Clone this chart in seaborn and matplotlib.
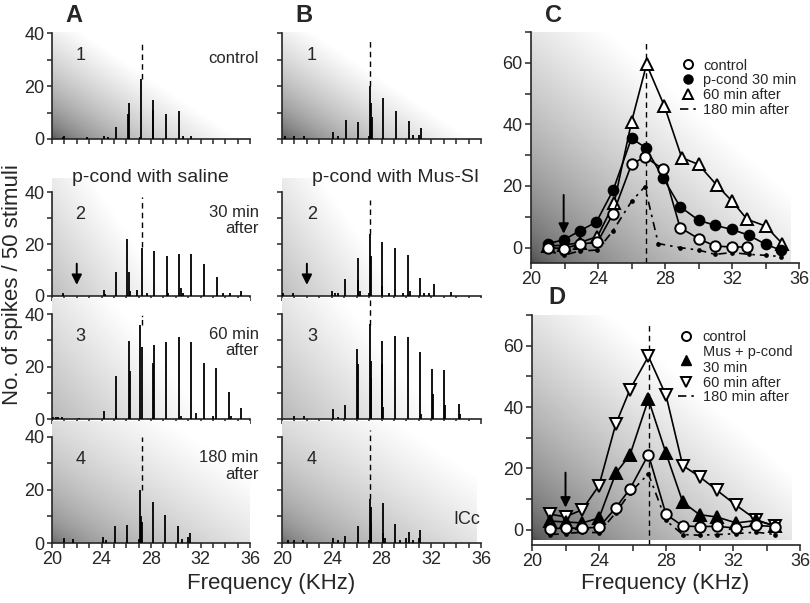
import numpy as np
import matplotlib
matplotlib.use('Agg')
import matplotlib.pyplot as plt
import seaborn as sns
from matplotlib.lines import Line2D

# ---- data ----
# panel A (p-cond with saline): frequency (kHz) and spike counts of each stem
a1_freq = [20.9, 20.95, 22.8, 24.2, 24.5, 25.2, 26.15, 26.2, 27.1, 27.2, 28.15, 28.2, 29.2, 30.3, 30.6, 31.2]
a1_count = [0.8, 1.0, 0.6, 1.3, 0.8, 4.4, 9.5, 13.6, 0.8, 22.5, 11, 14.6, 9.5, 10.4, 1, 1]
a2_freq = [20.9, 24.2, 24.3, 25.2, 26.1, 26.2, 26.3, 26.9, 27.3, 27.7, 28.25, 29.3, 29.35, 30.3, 30.45,
           30.6, 31.2, 32.3, 33.3, 33.8, 34.4, 35.3]
a2_count = [1, 2.3, 0.8, 9.4, 21.8, 9.4, 2, 2.3, 18.6, 1.3, 17.5, 15.5, 1, 16.2, 3, 1, 16.2, 12.3, 7.2, 1, 1, 2]
a3_freq = [20.1, 20.3, 20.5, 20.8, 22.2, 24.2, 25.15, 25.2, 26.2, 26.3, 27.15, 27.25, 28.15, 28.25, 29.2,
           30.27, 30.4, 31.24, 31.6, 32.3, 33.0, 33.25, 34.27, 34.45, 35.3]
a3_count = [0.6, 0.6, 0.6, 0.6, 0.3, 2.9, 1, 16.2, 29.6, 18.3, 35.8, 27.5, 21.3, 28.1, 29.4, 31.3, 1, 29.4,
            2.2, 21.5, 1, 19.4, 10.2, 1, 4.2]
a4_freq = [20.94, 21.7, 24.1, 24.4, 25.1, 26.1, 27.05, 27.15, 27.2, 27.25, 28.15, 29.14, 30.16, 30.5, 31.0, 31.15]
a4_count = [1.9, 1.5, 2.2, 1, 6.5, 6.6, 1.5, 20, 10, 8, 15.4, 10.4, 6.5, 1.5, 2.3, 3.8]

# panel B (p-cond with Mus-SI)
b1_freq = [20.24, 20.96, 21.8, 24.1, 24.5, 25.15, 26.14, 27.0, 27.1, 27.15, 27.2, 28.15, 29.14, 30.2, 30.5,
           31.05, 31.15]
b1_count = [1, 1, 1, 2.5, 1, 7, 6.6, 1, 20, 13.7, 8.4, 15.6, 10.6, 6.9, 1.5, 1.5, 4.1]
b2_freq = [20.1, 20.9, 24.05, 24.3, 24.5, 25.07, 26.09, 26.15, 26.3, 27.0, 27.08, 27.15, 28.0, 28.07, 28.6,
           29.06, 29.7, 30.1, 30.3, 31.1, 31.4, 31.8, 32.2, 33.6]
b2_count = [1, 1, 2, 1, 1, 6.6, 14.6, 6.3, 2, 1, 23.8, 15.4, 4, 20.8, 1, 18.5, 1, 15.6, 2, 6.9, 1, 1, 4.6, 1.5]
b3_freq = [20.97, 21.77, 24.1, 24.5, 25.07, 26.06, 26.12, 27.08, 27.13, 27.18, 28.0, 28.07, 28.12, 29.08,
           30.1, 31.1, 31.15, 32.1, 32.15, 33.0, 33.08, 34.2, 34.3]
b3_count = [1, 1, 3.8, 0.8, 5.3, 26.7, 21.1, 36.1, 22, 15.7, 21.1, 29.6, 4.5, 31.8, 31.2, 25.4, 2, 18.9, 9.4,
            18.5, 5.3, 5.7, 2]
b4_freq = [20.5, 21.0, 21.7, 24.1, 24.5, 25.1, 26.1, 27.0, 27.08, 27.13, 27.18, 28.1, 28.15, 28.25, 29.1,
           29.5, 30.0, 30.2, 30.5, 31.0, 31.1]
b4_count = [1, 1, 1, 2, 1, 2.8, 6.3, 1, 16.6, 13.4, 7.5, 15, 3.8, 2, 7.1, 1, 2, 4.1, 1, 2, 4.75]

row_numbers = ['1', '2', '3', '4']
row_notes = ['control', '30 min\nafter', '60 min\nafter', '180 min\nafter']

# panel C (saline)
c_freq_control = [21, 21.95, 22.9, 23.97, 24.9, 26.0, 26.8, 27.9, 28.9, 30.0, 31.0, 32.0, 32.9]
c_control = [0, -0.3, 1.1, 1.8, 11, 27, 29.5, 25.4, 6.5, 2.9, 0.5, 0.2, 0.2]
c_freq_pcond = [21, 21.95, 22.9, 23.9, 24.9, 26.0, 26.85, 27.9, 28.9, 30.0, 31.0, 32.0, 33.0, 34.0, 34.9]
c_pcond = [1.3, 2.5, 5.4, 8.3, 18.6, 35.5, 32.4, 22.5, 13.3, 8.9, 7.2, 5.9, 4.0, 1.1, -0.8]
c_freq_60 = [21, 21.95, 22.9, 23.97, 24.96, 26.0, 26.9, 27.96, 29.0, 30.0, 31.1, 32.0, 32.9, 34.0, 35.0]
c_60 = [0.5, 0.8, 1.6, 3.6, 14.4, 40.8, 59.5, 46, 29.2, 27, 20.2, 15.1, 9.2, 7, 1.3]
c_freq_180 = [21, 21.95, 22.9, 23.97, 24.9, 26.0, 26.8, 27.6, 28.9, 30.0, 31.0, 32.0, 33.0, 34.0, 34.9]
c_180 = [-1.1, -2.5, -1.1, -0.8, 5.5, 15, 19.8, 1.3, 0, -0.8, -2.2, -1.6, -2.2, -2.5, -2.9]

# panel D (muscimol)
d_freq = [21.1, 22.0, 23.0, 24.0, 25.0, 25.85, 26.95, 28.0, 29.0, 30.0, 31.05, 32.2, 33.4, 34.5]
d_control = [0.3, 0.5, 0.5, 0.8, 7.1, 13.3, 24.5, 5.0, 1.2, 1.0, 1.1, 0.5, 1.4, 1.0]
d_mus = [2.8, 2.5, 2.2, 3.8, 18.4, 24.4, 42.5, 24.9, 9.0, 4.9, 4.1, 2.2, 3.0, 1.2]
d_60 = [5.0, 4.2, 6.5, 14.4, 34.4, 45.7, 56.5, 43.8, 20.9, 17.3, 12.8, 7.9, 3.2, 1.2]
d_180 = [-1.6, -1.3, -0.8, -1.0, 5.5, 12.0, 18.2, 3.0, -1.6, -1.8, -1.6, -1.3, -0.8, -1.6]


sns.set_style('ticks')
plt.rcParams['font.family'] = ['Liberation Sans', 'DejaVu Sans']
plt.rcParams['axes.linewidth'] = 1.2

W, H = 810, 603
fig = plt.figure(figsize=(W / 100, H / 100), dpi=100)


def px_axes(x0, x1, y_top, y_bot):
    return fig.add_axes([x0 / W, 1 - y_bot / H, (x1 - x0) / W, (y_bot - y_top) / H])


def shade(ax, x0, x1, y0, y1, dark, wx, wy, s, gamma):
    # grey background that fades from a dark lower-left corner to white
    u, v = np.meshgrid(np.linspace(0, 1, 200), np.linspace(0, 1, 200))
    t = np.clip((u * wx + v * wy) / s, 0, 1) ** gamma
    g = dark + (1 - dark) * t
    ax.imshow(g, cmap='gray', vmin=0, vmax=1, extent=(x0, x1, y0, y1), origin='lower',
              aspect='auto', zorder=0, interpolation='bilinear')


# pixel layout of the histogram rows: (top of shading, x axis)
rows_px = [(32, 139), (178, 296), (298, 419), (421, 543)]
rows_top = [40.4, 45.4, 46.1, 46.0]
shades = [(0.3, 1, 0.8, 0.95, 0.55), (0.74, 1, 0.4, 0.6, 0.9), (0.72, 1, 0.5, 0.8, 0.9), (0.35, 1, 0.9, 1.5, 0.45)]

a_data = [(a1_freq, a1_count), (a2_freq, a2_count), (a3_freq, a3_count), (a4_freq, a4_count)]
b_data = [(b1_freq, b1_count), (b2_freq, b2_count), (b3_freq, b3_count), (b4_freq, b4_count)]
a_dash = [(37, 22.5, (0, (4, 3))), (38, 19, (0, (4, 3))), (40, 36, (0, (4, 2, 1, 2))), (40, 20, (0, (4, 3)))]
b_dash = [(37, 20, (0, (4, 3))), (37, 24, (0, (4, 3))), (46, 36, (0, (4, 3))), (42.5, 16.6, (0, (4, 3)))]


def hist_panel(x0, x1, data, dash_x, dashes, panel):
    for i, ((freq, count), (yt, yb)) in enumerate(zip(data, rows_px)):
        ax = px_axes(x0, x1, yt, yb)
        top = rows_top[i]
        shade(ax, 20, 35.6 if (panel == 'B' and i == 3) else 36, 0, top, *shades[i])
        ax.vlines(freq, 0, count, color='black', lw=1.3, zorder=3)
        d0, d1, ls = dashes[i]
        ax.vlines(dash_x, d1, d0, color='black', lw=1.0, linestyles=[ls], zorder=3)
        ax.set_xlim(20, 36)
        ax.set_ylim(0, top)
        ax.set_facecolor('none')
        ax.spines['top'].set_visible(False)
        ax.spines['right'].set_visible(False)
        ax.spines['left'].set_bounds(0, 40)
        ax.set_xticks(range(20, 37))
        ax.set_yticks(range(0, 41, 10))
        ax.set_yticklabels(['0', '', '20', '', '40'] if panel == 'A' else [])
        if i == 3:
            ax.set_xticklabels([str(v) if v % 4 == 0 else '' for v in range(20, 37)])
        else:
            ax.set_xticklabels([])
        ax.tick_params(length=3.5, width=1.1, labelsize=13, pad=2)
        ax.text(22.3 if panel == 'A' else 22.4, 31.5, row_numbers[i], fontsize=13, ha='center', va='center')
        if panel == 'A':
            ax.text(36.7, 30.5 if i == 0 else 29, row_notes[i], fontsize=12, ha='right', va='center',
                    linespacing=1.1, clip_on=False)
        if i == 1:
            ax.annotate('', xy=(22, 3.2), xytext=(22, 13.5),
                        arrowprops=dict(arrowstyle='-|>', color='black', lw=1.4, mutation_scale=15))
        if panel == 'B' and i == 3:
            ax.text(35.9, 8.7, 'ICc', fontsize=13, ha='right', va='center')


hist_panel(52, 250, a_data, 27.25, a_dash, 'A')
hist_panel(282, 481, b_data, 27.1, b_dash, 'B')


def curve(ax, x, y, marker, mfc, ms, ls='-', z=3):
    sns.lineplot(x=x, y=y, ax=ax, color='black', lw=1.2, linestyle=ls, marker=marker,
                 markerfacecolor=mfc, markeredgecolor='black', markeredgewidth=1.4,
                 markersize=ms, zorder=z, legend=False, sort=False, errorbar=None)


def tuning_axes(x0, x1, yt, yb, shade_bottom, vx):
    ax = px_axes(x0, x1, yt, yb)
    shade(ax, 20, 35.5, shade_bottom, 70, 0.28, 1, 1, 1.3, 0.6)
    ax.vlines(vx, -5, 67, color='black', lw=1.0, linestyles=[(0, (4, 3))], zorder=2)
    ax.set_xlim(20, 36)
    ax.set_ylim(-5, 70)
    ax.set_facecolor('none')
    ax.spines['top'].set_visible(False)
    ax.spines['right'].set_visible(False)
    ax.set_xticks(range(20, 37, 2))
    ax.set_xticklabels([str(v) if v % 4 == 0 else '' for v in range(20, 37, 2)])
    ax.set_yticks(range(0, 71, 10))
    ax.set_yticklabels(['0', '', '20', '', '40', '', '60', ''])
    ax.tick_params(length=4, width=1.1, labelsize=13, pad=2)
    ax.set_xlabel('')
    ax.set_ylabel('')
    return ax


dashdot = (0, (5, 3, 1.5, 3))

# panel C
axc = tuning_axes(531, 799, 32, 263, -5, 26.86)
curve(axc, c_freq_180, c_180, '.', 'black', 4, ls=dashdot, z=3)
curve(axc, c_freq_60, c_60, '^', 'white', 9, z=4)
curve(axc, c_freq_pcond, c_pcond, 'o', 'black', 7, z=5)
curve(axc, c_freq_control, c_control, 'o', 'white', 7.5, z=6)
axc.annotate('', xy=(21.95, 3.6), xytext=(21.95, 18),
             arrowprops=dict(arrowstyle='-|>', color='black', lw=1.4, mutation_scale=15))
c_handles = [
    Line2D([], [], ls='none', marker='o', mfc='white', mec='black', mew=1.4, ms=6.5, label='control'),
    Line2D([], [], ls='none', marker='o', mfc='black', mec='black', ms=6.5, label='p-cond 30 min'),
    Line2D([], [], ls='none', marker='^', mfc='white', mec='black', mew=1.4, ms=7.5, label='60 min after'),
    Line2D([], [], ls=dashdot, color='black', lw=1.2, label='180 min after'),
]
axc.legend(handles=c_handles, loc='upper left', bbox_to_anchor=(0.555, 0.885), frameon=False, fontsize=10.5,
           handlelength=1.1, handletextpad=0.5, labelspacing=0.05, borderaxespad=0, borderpad=0)

# panel D
axd = tuning_axes(532, 800, 315, 545, -3.5, 26.98)
curve(axd, d_freq, d_180, '.', 'black', 4, ls=dashdot, z=3)
curve(axd, d_freq, d_60, 'v', 'white', 9, z=4)
curve(axd, d_freq, d_mus, '^', 'black', 8, z=5)
curve(axd, d_freq, d_control, 'o', 'white', 7.5, z=6)
axd.annotate('', xy=(22.0, 6.3), xytext=(22.0, 19.5),
             arrowprops=dict(arrowstyle='-|>', color='black', lw=1.4, mutation_scale=15))
d_handles = [
    Line2D([], [], ls='none', marker='o', mfc='white', mec='black', mew=1.4, ms=6.5, label='control'),
    Line2D([], [], ls='none', marker='^', mfc='black', mec='black', ms=7.5, label='Mus + p-cond\n30 min'),
    Line2D([], [], ls='none', marker='v', mfc='white', mec='black', mew=1.4, ms=7.5, label='60 min after'),
    Line2D([], [], ls=dashdot, color='black', lw=1.2, label='180 min after'),
]
axd.legend(handles=d_handles, loc='upper left', bbox_to_anchor=(0.545, 0.935), frameon=False, fontsize=10.5,
           handlelength=1.1, handletextpad=0.6, labelspacing=0.05, borderaxespad=0, borderpad=0)

# labels
for lab, x, y in [('A', 74, 15), ('B', 304, 15), ('C', 553, 15), ('D', 557, 298)]:
    fig.text(x / W, 1 - y / H, lab, fontsize=17, fontweight='bold', ha='center', va='center')
fig.text(150 / W, 1 - 178 / H, 'p-cond with saline', fontsize=14, ha='center', va='center')
fig.text(396 / W, 1 - 178 / H, 'p-cond with Mus-SI', fontsize=14, ha='center', va='center')
fig.text(13 / W, 1 - 285 / H, 'No. of spikes / 50 stimuli', fontsize=16, rotation=90, ha='center', va='center')
fig.text(271 / W, 1 - 583 / H, 'Frequency (KHz)', fontsize=16, ha='center', va='center')
fig.text(665 / W, 1 - 583 / H, 'Frequency (KHz)', fontsize=16, ha='center', va='center')

fig.savefig('out.png', dpi=100, facecolor='white')
